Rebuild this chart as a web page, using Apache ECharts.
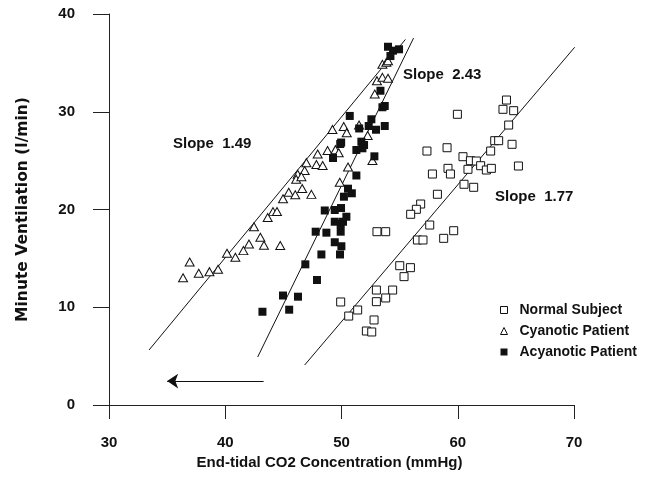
<!DOCTYPE html>
<html>
<head>
<meta charset="utf-8">
<script src="https://cdn.jsdelivr.net/npm/echarts@6/dist/echarts.min.js"></script>
<style>html,body{margin:0;padding:0;background:#fff;}#c{width:649px;height:478px;}</style>
</head>
<body>
<div id="c"></div>
<script>
var xTicks = [30, 40, 50, 60, 70];
var yTicks = [0, 10, 20, 30, 40];

var normal = [
  [64.19,31.20],[63.89,30.25],[64.81,30.11],[59.97,29.74],[64.38,28.64],[63.18,27.04],[63.52,27.04],
  [64.67,26.67],[62.83,25.98],[57.35,25.98],[59.08,26.32],[60.45,25.40],[61.09,24.99],[61.60,24.96],
  [61.97,24.48],[62.46,24.04],[62.89,24.21],[60.88,24.11],[59.16,24.21],[59.37,23.63],[57.82,23.63],
  [65.22,24.45],[60.54,22.58],[61.37,22.27],[58.25,21.56],[56.81,20.56],[56.44,20.02],[55.95,19.51],
  [57.59,18.41],[59.65,17.83],[58.79,17.05],[56.53,16.88],[57.01,16.88],[53.05,17.73],[53.80,17.73],
  [55.01,14.25],[55.93,14.05],[55.38,13.13],[49.93,10.54],[51.39,9.72],[50.62,9.10],[53.0,11.76],
  [53.0,10.57],[52.80,8.70],[52.14,7.57],[52.60,7.47],[54.4,11.76],[53.8,10.95]
];

var cyanotic = [
  [53.52,34.85],[53.86,35.06],[54.00,35.22],[53.05,33.18],[53.52,33.52],[54.00,33.42],[52.86,31.82],
  [52.66,25.01],[50.56,24.35],[49.85,22.79],[51.51,28.64],[52.25,27.57],[50.19,28.49],[50.45,27.86],
  [49.22,28.18],[48.80,26.04],[49.48,26.12],[49.76,25.81],[47.95,25.68],[46.98,24.79],[47.84,24.60],
  [48.38,24.50],[46.23,23.60],[46.83,23.99],[46.10,23.09],[46.55,23.36],[46.62,22.15],[45.46,21.76],
  [46.02,21.51],[44.97,21.10],[47.41,21.55],[44.11,19.78],[44.45,19.80],[43.65,19.18],[42.47,18.24],
  [43.02,17.16],[42.04,16.47],[43.33,16.34],[44.73,16.32],[40.15,15.52],[41.56,15.79],[40.87,15.11],
  [36.94,14.63],[37.72,13.47],[38.64,13.64],[39.38,13.88],[36.37,13.02]
];

var acyanotic = [
  [54.00,36.65],[54.43,36.25],[54.95,36.39],[54.21,35.70],[53.35,32.15],[53.52,30.46],[53.72,30.59],
  [50.71,29.57],[52.57,29.23],[52.34,28.54],[51.52,28.29],[52.97,28.16],[53.72,28.54],[49.97,26.85],
  [49.89,26.70],[51.71,26.94],[51.94,26.60],[51.80,26.26],[51.28,26.09],[49.27,25.27],[52.83,25.44],
  [51.28,23.48],[50.56,22.13],[50.89,21.66],[50.21,21.31],[48.56,19.90],[49.42,19.95],[49.96,20.15],
  [50.42,19.26],[49.42,18.75],[49.93,18.52],[50.13,18.75],[47.78,17.73],[48.70,17.63],[49.93,17.73],
  [49.42,16.65],[49.99,16.24],[49.87,15.40],[48.27,15.40],[46.89,14.39],[47.89,12.79],[44.97,11.20],
  [46.26,11.08],[45.50,9.75],[43.20,9.54]
];

var normalFit = [[46.83, 4.09], [70.06, 36.6]];
var cyanoticFit = [[33.45, 5.63], [55.5, 37.4]];
var acyanoticFit = [[42.79, 4.91], [56.2, 37.54]];
var arrowLine = [[43.3, 2.45], [35.0, 2.45]];

var slopeLabels = ['Slope  1.49', 'Slope  2.43', 'Slope  1.77'];
var seriesNames = ['Normal Subject', 'Cyanotic Patient', 'Acyanotic Patient'];

var FONT = 'Liberation Sans, Arial, Helvetica, sans-serif';
var WIDE = 'DejaVu Sans, Liberation Sans, sans-serif';
var INK = '#111';

var chart = echarts.init(document.getElementById('c'), null, {renderer: 'canvas'});

function fitSeries(d) {
  return {
    type: 'line', data: d, symbol: 'none', silent: true,
    lineStyle: {color: INK, width: 1}, z: 1
  };
}

var option = {
  backgroundColor: '#fff',
  animation: false,
  grid: {left: 109, right: 75, top: 14, bottom: 73, containLabel: false},
  xAxis: {
    type: 'value', min: 30, max: 70, interval: 10,
    name: 'End-tidal CO2 Concentration (mmHg)',
    nameLocation: 'middle', nameGap: 49,
    nameTextStyle: {fontFamily: FONT, fontWeight: 'bold', fontSize: 15, color: INK, padding: [0, 24, 0, 0]},
    axisLine: {show: true, lineStyle: {color: '#222', width: 1}},
    axisTick: {show: true, inside: false, length: 14, lineStyle: {color: '#222'}},
    axisLabel: {fontFamily: FONT, fontWeight: 'bold', fontSize: 15, color: INK, margin: 30,
      formatter: function (v) { return xTicks.indexOf(v) >= 0 ? String(v) : ''; }},
    splitLine: {show: false}
  },
  yAxis: {
    type: 'value', min: 0, max: 40, interval: 10,
    name: 'Minute Ventilation (l/min)',
    nameLocation: 'middle', nameGap: 78, nameRotate: 90,
    nameTextStyle: {fontFamily: WIDE, fontWeight: 'bold', fontSize: 15.5, color: INK},
    axisLine: {show: true, lineStyle: {color: '#222', width: 1}},
    axisTick: {show: true, inside: false, length: 16, lineStyle: {color: '#222'}},
    axisLabel: {fontFamily: FONT, fontWeight: 'bold', fontSize: 15, color: INK, margin: 34,
      formatter: function (v) { return yTicks.indexOf(v) >= 0 ? String(v) : ''; }},
    splitLine: {show: false}
  },
  legend: {
    orient: 'vertical', left: 495, top: 298, itemWidth: 7, itemHeight: 7, itemGap: 7,
    data: [
      {name: seriesNames[0], icon: 'rect', itemStyle: {color: '#fff', borderColor: INK, borderWidth: 1}},
      {name: seriesNames[1], icon: 'triangle', itemStyle: {color: '#fff', borderColor: INK, borderWidth: 1}},
      {name: seriesNames[2], icon: 'rect', itemStyle: {color: INK}}
    ],
    textStyle: {fontFamily: FONT, fontWeight: 'bold', fontSize: 14, color: INK, padding: [0, 0, 0, 7]}
  },
  series: [
    fitSeries(normalFit), fitSeries(cyanoticFit), fitSeries(acyanoticFit),
    {
      name: seriesNames[0], type: 'scatter', data: normal, symbol: 'rect', symbolSize: 8,
      itemStyle: {color: '#fff', borderColor: INK, borderWidth: 1, opacity: 1}, z: 3
    },
    {
      name: seriesNames[1], type: 'scatter', data: cyanotic, symbol: 'triangle', symbolSize: [9, 8],
      itemStyle: {color: '#fff', borderColor: INK, borderWidth: 1, opacity: 1}, z: 4
    },
    {
      name: seriesNames[2], type: 'scatter', data: acyanotic, symbol: 'rect', symbolSize: 8,
      itemStyle: {color: INK, opacity: 1}, z: 5
    },
    {
      type: 'lines', coordinateSystem: 'cartesian2d', silent: true,
      symbol: ['none', 'arrow'], symbolSize: 11,
      lineStyle: {color: INK, width: 1, opacity: 1},
      data: [{coords: arrowLine}], z: 2
    }
  ],
  graphic: [
    {type: 'text', left: 173, top: 136, style: {text: slopeLabels[0], font: 'bold 15px ' + FONT, fill: INK}},
    {type: 'text', left: 403, top: 67, style: {text: slopeLabels[1], font: 'bold 15px ' + FONT, fill: INK}},
    {type: 'text', left: 495, top: 189, style: {text: slopeLabels[2], font: 'bold 15px ' + FONT, fill: INK}}
  ]
};
chart.setOption(option);
</script>
</body>
</html>
